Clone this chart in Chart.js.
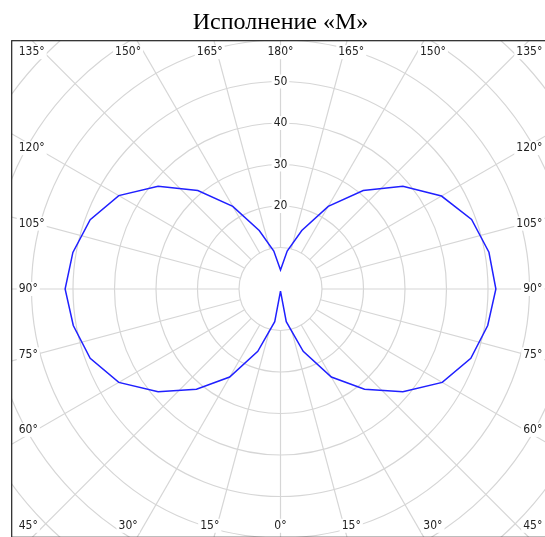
<!DOCTYPE html>
<html>
<head>
<meta charset="utf-8">
<script src="https://cdn.jsdelivr.net/npm/chart.js@4.4.1/dist/chart.umd.min.js"></script>
<style>
  html, body { margin: 0; padding: 0; background: #fff; overflow: hidden; }
  #wrap { position: absolute; left: 0; top: 0; width: 560px; height: 560px; }
</style>
</head>
<body>
<div id="wrap"><canvas id="chart"></canvas></div>
<script>
// ============================================
// Диаграмма направленности, исполнение «М»
// ============================================

// угол от 0° (низ) через 90° (лево) к 180° (верх) и дальше по правой стороне
const angleDeg = [0, 10, 20, 30, 40, 50, 60, 70, 80, 90, 100, 110, 120, 130, 140, 150, 160, 170, 180,
                  190, 200, 210, 220, 230, 240, 250, 260, 270, 280, 290, 300, 310, 320, 330, 340, 350, 360];
const gain = [0.5, 8, 16, 24.5, 31.5, 38.5, 45, 48.8, 50.7, 51.9, 50.8, 48.8, 45, 38.5, 31, 23, 15, 9.3, 4.6,
              9.3, 15, 23, 31, 38.5, 44.8, 49, 51, 51.9, 50.7, 48.8, 45, 38.5, 31.5, 24.5, 16, 8, 0.5];

// сетка
const ringValues = [10, 20, 30, 40, 50, 60, 70, 80];
const ringLabels = [20, 30, 40, 50];
const spokeAngles = [0, 15, 30, 45, 60, 75, 90, 105, 120, 135, 150, 165, 180,
                     195, 210, 225, 240, 255, 270, 285, 300, 315, 330, 345];

const TICK_FONT = '12px "DejaVu Sans Condensed", "Liberation Sans", sans-serif';

function toXY(deg, v) {
  const t = deg * Math.PI / 180;
  return { x: -v * Math.sin(t), y: -v * Math.cos(t) };
}

function labelBox(ctx, text, x, y, align) {
  const w = ctx.measureText(text).width;
  let left = x - w / 2;
  if (align === 'left') left = x;
  if (align === 'right') left = x - w;
  ctx.fillStyle = '#fff';
  ctx.fillRect(left - 2, y - 7, w + 4, 14);
  ctx.fillStyle = '#222';
  ctx.textAlign = align;
  ctx.fillText(text, x, y);
}

const polarGrid = {
  id: 'polarGrid',
  beforeDatasetsDraw(chart) {
    const { ctx, chartArea: a, scales } = chart;
    const cx = scales.x.getPixelForValue(0);
    const cy = scales.y.getPixelForValue(0);
    const unit = scales.x.getPixelForValue(1) - cx;

    ctx.save();
    ctx.beginPath();
    ctx.rect(a.left, a.top, a.width, a.height);
    ctx.clip();

    ctx.strokeStyle = '#d6d6d6';
    ctx.lineWidth = 1.2;
    ringValues.forEach(v => {
      ctx.beginPath();
      ctx.arc(cx, cy, v * unit, 0, Math.PI * 2);
      ctx.stroke();
    });

    const r0 = ringValues[0] * unit;
    spokeAngles.forEach(deg => {
      const t = deg * Math.PI / 180;
      const ux = -Math.sin(t), uy = Math.cos(t);
      ctx.beginPath();
      ctx.moveTo(cx + ux * r0, cy + uy * r0);
      ctx.lineTo(cx + ux * 1000, cy + uy * 1000);
      ctx.stroke();
    });

    // подписи углов по краю рамки
    ctx.font = TICK_FONT;
    ctx.textBaseline = 'middle';
    spokeAngles.forEach(deg => {
      const t = deg * Math.PI / 180;
      const ux = -Math.sin(t), uy = Math.cos(t);
      const text = (deg <= 180 ? deg : 360 - deg) + '°';
      const fromVert = Math.min(deg % 180, 180 - deg % 180);
      const yTop = a.top + 11.5, yBot = a.bottom - 11.5;
      if (fromVert < 45) {
        let x = cx + ux / Math.abs(uy) * 264;
        const y = uy < 0 ? yTop : yBot;
        const w = ctx.measureText(text).width;
        x = Math.max(a.left + 7 + w / 2, Math.min(a.right - 7 - w / 2, x));
        labelBox(ctx, text, x, y, 'center');
      } else {
        let y = fromVert === 45 ? (uy < 0 ? yTop : yBot) : cy + uy / Math.abs(ux) * 244;
        y = Math.max(yTop, Math.min(yBot, y));
        if (ux < 0) labelBox(ctx, text, a.left + 7, y, 'left');
        else labelBox(ctx, text, a.right - 7, y, 'right');
      }
    });

    // значения по радиусу
    ringLabels.forEach(v => {
      labelBox(ctx, String(v), cx, cy - v * unit, 'center');
    });
    ctx.restore();

    ctx.save();
    ctx.strokeStyle = '#222';
    ctx.lineWidth = 1.2;
    ctx.strokeRect(a.left, a.top, a.width, a.height);
    ctx.restore();
  }
};

const points = angleDeg.map((d, i) => toXY(d, gain[i]));

new Chart(document.getElementById('chart'), {
  type: 'scatter',
  data: {
    datasets: [{
      data: points,
      showLine: true,
      borderColor: '#2020ff',
      borderWidth: 1.5,
      pointRadius: 0,
      tension: 0,
      fill: false
    }]
  },
  options: {
    responsive: true,
    maintainAspectRatio: false,
    animation: false,
    layout: { padding: { left: 11.7, right: 10.7, top: 0, bottom: 22.7 } },
    plugins: {
      legend: { display: false },
      tooltip: { enabled: false },
      title: {
        display: true,
        text: 'Исполнение «М»',
        color: '#000',
        font: { family: '"Liberation Serif", "Times New Roman", serif', size: 24, weight: 'normal' },
        padding: { top: 8.2, bottom: 3.7 }
      }
    },
    scales: {
      x: { display: false, min: -64.77, max: 64.77 },
      y: { display: false, min: -59.83, max: 59.83 }
    }
  },
  plugins: [polarGrid]
});
</script>
</body>
</html>
